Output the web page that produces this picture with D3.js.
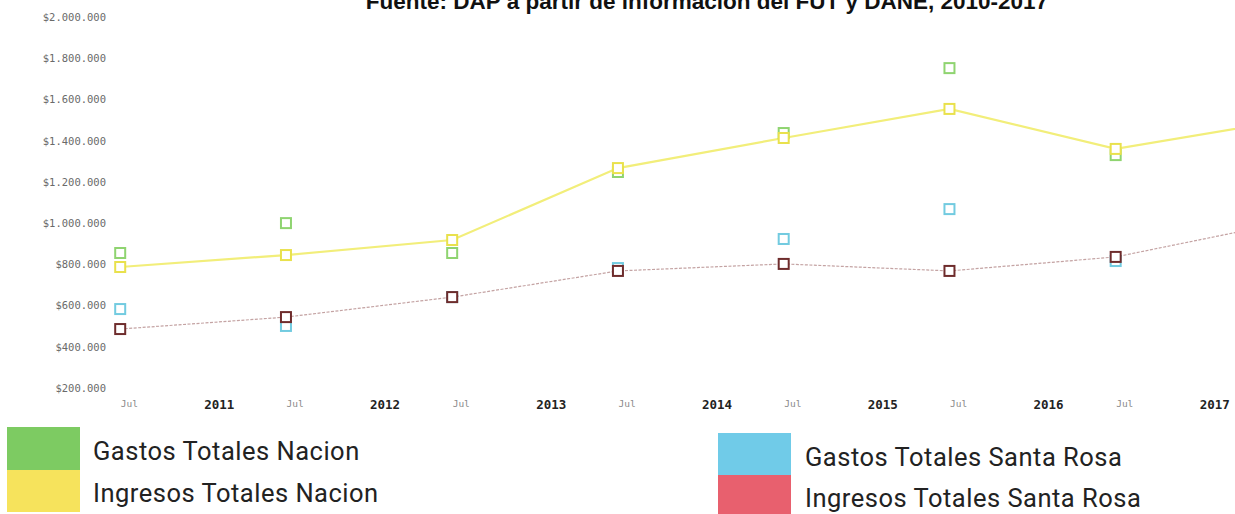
<!DOCTYPE html>
<html>
<head>
<meta charset="utf-8">
<script src="https://cdn.jsdelivr.net/npm/d3@7"></script>
<style>
  html, body { margin: 0; padding: 0; background: #fff; }
  svg { display: block; }
</style>
</head>
<body>
<svg id="chart" width="1235" height="514"></svg>
<script>
// ---- Data ----
const years = [2010, 2011, 2012, 2013, 2014, 2015, 2016, 2017];
const gastosNacion      = [855000, 1000000, 855000, 1248000, 1437000, 1752000, 1330000, null];
const ingresosNacion    = [787000, 845000, 918000, 1267000, 1413000, 1554000, 1360000, 1495000];
const gastosSantaRosa   = [583000, 501000, 641000, 782000, 923000, 1068000, 816000, null];
const ingresosSantaRosa = [486000, 544000, 641000, 768000, 802000, 768000, 836000, 1000000];
const yTicks = [200000, 400000, 600000, 800000, 1000000, 1200000, 1400000, 1600000, 1800000, 2000000];
const xTickYears = [2010, 2011, 2012, 2013, 2014, 2015, 2016, 2017];
const titleText = "Fuente: DAP  a partir de información del FUT y DANE, 2010-2017";
const legendLeft = ["Gastos Totales Nacion", "Ingresos Totales Nacion"];
const legendRight = ["Gastos Totales Santa Rosa", "Ingresos Totales Santa Rosa"];

// ---- Setup ----
const svg = d3.select("#chart");
const locale = d3.formatLocale({decimal: ",", thousands: ".", grouping: [3], currency: ["$", ""]});
const fmt = locale.format("$,.0f");

const x = d3.scaleTime()
  .domain([new Date(2010, 0, 1), new Date(2018, 0, 1)])
  .range([38, 1365]);
const y = d3.scaleLinear().domain([200000, 2000000]).range([388, 17]);

// Title (partially cut off at top as in the scan)
svg.append("text")
  .attr("x", 707).attr("y", 9)
  .attr("text-anchor", "middle")
  .attr("font-family", "Liberation Sans, Arial, sans-serif")
  .attr("font-size", 22.5)
  .attr("font-weight", "bold")
  .attr("fill", "#111")
  .text(titleText);

// Y axis
const yAxis = d3.axisLeft(y).tickValues(yTicks).tickFormat(fmt).tickSize(0).tickPadding(0);
const gy = svg.append("g").attr("transform", "translate(106,0)").call(yAxis);
gy.select(".domain").remove();
gy.selectAll("text")
  .attr("font-family", "DejaVu Sans Mono, monospace")
  .attr("font-size", 10.5)
  .attr("fill", "#6a6a6a");

// X axis
const xTickDates = [];
xTickYears.forEach(yr => {
  if (yr > 2010) xTickDates.push(new Date(yr, 0, 1));
  xTickDates.push(new Date(yr, 6, 1));
});
const xAxis = d3.axisBottom(x).tickValues(xTickDates)
  .tickFormat(d => d.getMonth() === 6 ? "Jul" : d3.timeFormat("%Y")(d))
  .tickSize(0).tickPadding(0);
const gx = svg.append("g").attr("transform", "translate(0,398)").call(xAxis);
gx.select(".domain").remove();
gx.selectAll(".tick text")
  .attr("text-anchor", "start")
  .attr("font-family", "DejaVu Sans Mono, monospace")
  .each(function(d) {
    const t = d3.select(this);
    if (d.getMonth() === 6) {
      t.attr("font-size", 9.5).attr("fill", "#8a8a8a").attr("dy", "0.9em");
    } else {
      t.attr("font-size", 12.5).attr("font-weight", "bold").attr("fill", "#222").attr("dy", "0.85em");
    }
  });

// Series
const dates = years.map(yr => new Date(yr, 6, 1));
function pts(arr) {
  return arr.map((v, i) => ({d: dates[i], v})).filter(p => p.v !== null);
}
const line = d3.line().x(p => x(p.d)).y(p => y(p.v));

// Lines
svg.append("path")
  .datum(pts(ingresosNacion))
  .attr("d", line)
  .attr("fill", "none")
  .attr("stroke", "#f2ee7a")
  .attr("stroke-width", 2.2);
svg.append("path")
  .datum(pts(ingresosSantaRosa))
  .attr("d", line)
  .attr("fill", "none")
  .attr("stroke", "#c4a3a3")
  .attr("stroke-width", 1.2)
  .attr("stroke-dasharray", "3,1.5");

// Markers
function markers(arr, color) {
  svg.append("g").selectAll("rect")
    .data(pts(arr))
    .join("rect")
    .attr("x", p => x(p.d) - 5)
    .attr("y", p => y(p.v) - 5)
    .attr("width", 10).attr("height", 10)
    .attr("fill", "#fff")
    .attr("stroke", color)
    .attr("stroke-width", 2);
}
markers(gastosNacion, "#8fd470");
markers(ingresosNacion, "#e9e14c");
markers(gastosSantaRosa, "#72cbe0");
markers(ingresosSantaRosa, "#6e2c2c");

// Legend
const legendData = [
  {label: legendLeft[0], color: "#7dcb62", sx: 7, sy: 427, sh: 43, tx: 93, ty: 460},
  {label: legendLeft[1], color: "#f6e35c", sx: 7, sy: 470, sh: 42, tx: 93, ty: 502},
  {label: legendRight[0], color: "#70cbe8", sx: 718, sy: 433, sh: 42, tx: 805, ty: 466},
  {label: legendRight[1], color: "#e8606e", sx: 718, sy: 475, sh: 42, tx: 805, ty: 507}
];
const lg = svg.append("g");
legendData.forEach(l => {
  lg.append("rect").attr("x", l.sx).attr("y", l.sy).attr("width", 73).attr("height", l.sh).attr("fill", l.color);
  lg.append("text").attr("x", l.tx).attr("y", l.ty)
    .attr("font-family", "Roboto, sans-serif")
    .attr("font-size", 25.5)
    .attr("letter-spacing", 0.5)
    .attr("fill", "#222")
    .text(l.label);
});
</script>
</body>
</html>
